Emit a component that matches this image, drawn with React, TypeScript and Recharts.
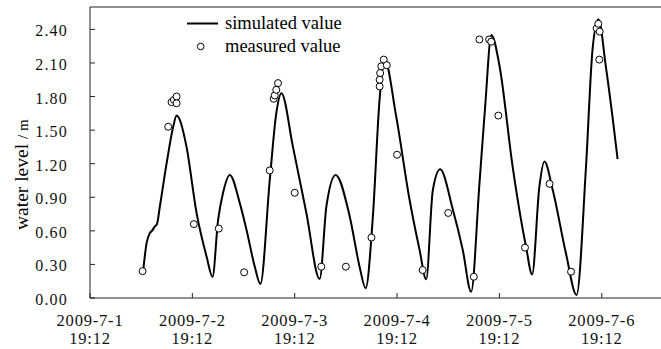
import { ComposedChart, Line, Scatter, XAxis, YAxis, ReferenceLine, Legend } from "recharts";

// days after 2009-7-1 19:12
const simDays = [
  0.52, 0.553, 0.585, 0.605, 0.634, 0.654, 0.683, 0.748, 0.813, 0.846, 0.868, 0.943, 1.041, 1.139,
  1.197, 1.252, 1.3, 1.366, 1.463, 1.529, 1.61, 1.665, 1.756, 1.82, 1.87, 1.983, 2.114, 2.244, 2.31,
  2.4, 2.537, 2.634, 2.693, 2.764, 2.829, 2.878, 2.992, 3.122, 3.22, 3.285, 3.349, 3.421, 3.545,
  3.642, 3.724, 3.805, 3.86, 3.922, 4.0, 4.13, 4.26, 4.32, 4.39, 4.44, 4.52, 4.65, 4.754, 4.846,
  4.91, 4.968, 5.04, 5.105, 5.155,
];
const simLevels = [
  0.25, 0.49, 0.58, 0.6, 0.64, 0.66, 0.82, 1.2, 1.53, 1.63, 1.61, 1.35, 0.76, 0.37,
  0.19, 0.7, 0.94, 1.1, 0.85, 0.61, 0.28, 0.125, 1.05, 1.65, 1.83, 1.35, 0.76, 0.17, 0.82,
  1.1, 0.73, 0.28, 0.087, 0.73, 1.77, 2.13, 1.62, 0.88, 0.43, 0.167, 0.96, 1.15, 0.79,
  0.43, 0.056, 1.02, 1.7, 2.35, 2.08, 1.17, 0.46, 0.21, 0.99, 1.22, 0.97, 0.4, 0.027, 1.17,
  2.22, 2.49, 2.07, 1.62, 1.24,
];

const measDays = [
  0.514, 0.764, 0.797, 0.82, 0.846, 0.846, 1.015, 1.258, 1.506, 1.756, 1.795, 1.805, 1.82, 1.837,
  2.0, 2.26, 2.5, 2.75, 2.83, 2.83, 2.835, 2.846, 2.87, 2.9, 3.0, 3.25, 3.5, 3.75, 3.805, 3.9,
  3.92, 3.99, 4.25, 4.49, 4.7, 4.95, 4.966, 4.98, 4.976,
];
const measLevels = [
  0.24, 1.53, 1.75, 1.77, 1.8, 1.74, 0.66, 0.62, 0.23, 1.14, 1.78, 1.81, 1.86, 1.92,
  0.94, 0.28, 0.28, 0.54, 1.89, 1.95, 2.01, 2.07, 2.13, 2.08, 1.28, 0.25, 0.76, 0.19, 2.31, 2.31,
  2.29, 1.63, 0.45, 1.02, 0.235, 2.41, 2.45, 2.38, 2.13,
];

const dayTicks = [0, 1, 2, 3, 4, 5];
const dateLabels = ["2009-7-1", "2009-7-2", "2009-7-3", "2009-7-4", "2009-7-5", "2009-7-6"];
const timeLabel = "19:12";
const levelTicks = [0, 0.3, 0.6, 0.9, 1.2, 1.5, 1.8, 2.1, 2.4];

const simulated = simDays.map((day, i) => ({ day, level: simLevels[i] }));
const measured = measDays.map((day, i) => ({ day, level: measLevels[i] }));

const FONT = "'Liberation Serif', 'DejaVu Serif', serif";

function DateTick(props: any) {
  const { x, y, payload } = props;
  const i = Math.round(payload.value);
  return (
    <g fill="#111">
      <text x={x} y={y + 28} textAnchor="middle" fontFamily={FONT} fontSize={16.5} letterSpacing={0.8}>{dateLabels[i]}</text>
      <text x={x} y={y + 46} textAnchor="middle" fontFamily={FONT} fontSize={16.5} letterSpacing={0.8}>{timeLabel}</text>
    </g>
  );
}

function LevelTick(props: any) {
  const { x, y, payload } = props;
  return (
    <text x={x} y={y + 7} textAnchor="end" fill="#111" fontFamily={FONT} fontSize={16} letterSpacing={1.2}>
      {payload.value.toFixed(2)}
    </text>
  );
}

function Ring(props: any) {
  return <circle cx={props.cx} cy={props.cy} r={3.5} fill="#fff" stroke="#000" strokeWidth={1} />;
}

function LegendBox() {
  return (
    <svg width={200} height={52} style={{ display: "block" }}>
      <line x1={7} x2={38} y1={15.5} y2={15.5} stroke="#000" strokeWidth={2} />
      <text x={45} y={21} fill="#000" fontFamily={FONT} fontSize={18.5}>simulated value</text>
      <circle cx={20.7} cy={38.5} r={3.3} fill="#fff" stroke="#000" strokeWidth={1} />
      <text x={45} y={43.5} fill="#000" fontFamily={FONT} fontSize={18.5}>measured value</text>
    </svg>
  );
}

function LevelLabel() {
  return (
    <text transform="translate(28,230) rotate(-90)" fill="#000" fontFamily={FONT} fontSize={19.5}>
      water level{" "}
      <tspan fontSize={15} letterSpacing={4}>/m</tspan>
    </text>
  );
}

export default function App() {
  return (
    <div style={{ position: "absolute", left: 0, top: 0, width: 661, height: 349, overflow: "hidden", background: "#fff" }}>
      <ComposedChart width={700} height={349} margin={{ top: 7, right: 0, bottom: 0, left: 10 }}>
        <XAxis
          type="number"
          dataKey="day"
          domain={[0, 5.96]}
          ticks={dayTicks}
          allowDataOverflow
          height={51}
          stroke="#222"
          tickSize={-5}
          tickMargin={5}
          tick={<DateTick />}
        />
        <YAxis
          type="number"
          dataKey="level"
          domain={[0, 2.6]}
          ticks={levelTicks}
          allowDataOverflow
          width={80}
          stroke="#222"
          tickSize={-5}
          tickMargin={27}
          tick={<LevelTick />}
          label={() => <LevelLabel />}
        />
        <ReferenceLine y={2.6} stroke="#222" />
        <Scatter data={measured} dataKey="level" shape={<Ring />} isAnimationActive={false} />
        <Line
          data={simulated}
          dataKey="level"
          type="monotone"
          stroke="#000"
          strokeWidth={2}
          dot={false}
          activeDot={false}
          isAnimationActive={false}
        />
        <Legend
          layout="horizontal"
          verticalAlign="middle"
          align="center"
          wrapperStyle={{ left: 180, top: 8, width: 200, height: 52 }}
          content={() => <LegendBox />}
        />
      </ComposedChart>
    </div>
  );
}
